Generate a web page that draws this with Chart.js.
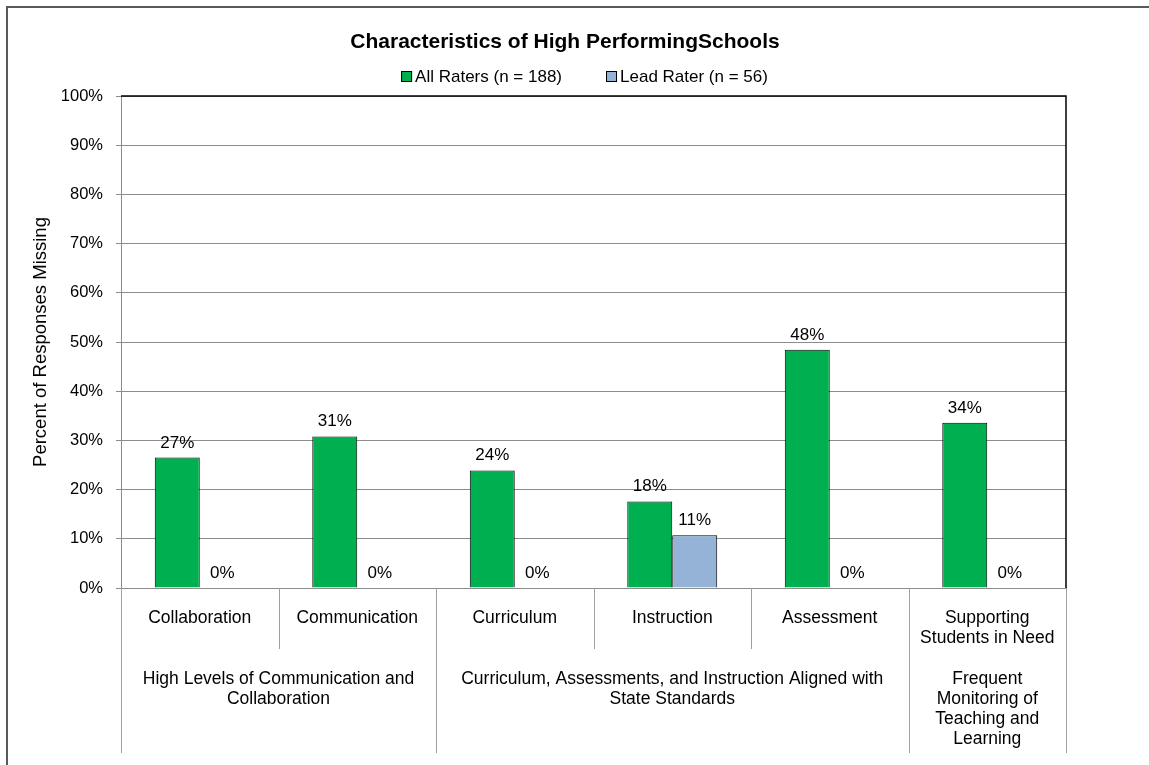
<!DOCTYPE html>
<html>
<head>
<meta charset="utf-8">
<title>Characteristics of High Performing Schools</title>
<script src="https://cdn.jsdelivr.net/npm/chart.js@4.4.1/dist/chart.umd.min.js"></script>
<style>
    html, body { margin: 0; padding: 0; background: #ffffff; }
    #wrap { width: 1149px; height: 765px; position: relative; }
</style>
</head>
<body>
<div id="wrap"><canvas id="chart"></canvas></div>
<script>
// chart data
const categories = [
    ['Collaboration'],
    ['Communication'],
    ['Curriculum'],
    ['Instruction'],
    ['Assessment'],
    ['Supporting', 'Students in Need']
];
const groupLabels = [
    ['High Levels of Communication and', 'Collaboration'],
    ['Curriculum, Assessments, and Instruction Aligned with', 'State Standards'],
    ['Frequent', 'Monitoring of', 'Teaching and', 'Learning']
];
const groupSpans = [2, 3, 1];
const allRaters = [26.5, 30.8, 23.9, 17.6, 48.4, 33.6];
const leadRater = [0, 0, 0, 10.7, 0, 0];
const yTicks = [0, 10, 20, 30, 40, 50, 60, 70, 80, 90, 100];
const seriesNames = ['All Raters (n = 188)', 'Lead Rater (n = 56)'];
const titleText = 'Characteristics of High PerformingSchools';

const FONT = '"Liberation Sans", Arial, sans-serif';
const GREEN = '#00b050';
const BLUE = '#95b3d7';
const GRID = '#8c8c8c';
const SEP = '#a0a0a0';

// draws title, legend, labels and the two-level category axis
const decorPlugin = {
    id: 'decor',
    afterDatasetsDraw(chart) {
        const ctx = chart.ctx;
        const area = chart.chartArea;
        const x = chart.scales.x;

        ctx.save();

        // plot border (top + right)
        ctx.strokeStyle = '#000000';
        ctx.lineWidth = 1.5;
        ctx.beginPath();
        ctx.moveTo(area.left, area.top);
        ctx.lineTo(area.right, area.top);
        ctx.lineTo(area.right, area.bottom);
        ctx.stroke();

        // value labels
        ctx.fillStyle = '#000000';
        ctx.font = '17px ' + FONT;
        ctx.textAlign = 'center';
        ctx.textBaseline = 'alphabetic';
        chart.data.datasets.forEach((ds, di) => {
            const meta = chart.getDatasetMeta(di);
            meta.data.forEach((bar, i) => {
                ctx.fillText(Math.round(ds.data[i]) + '%', bar.x, bar.y - 10);
            });
        });

        // boundaries between categories
        const n = categories.length;
        const bounds = [area.left];
        for (let i = 0; i < n - 1; i++) {
            bounds.push((x.getPixelForValue(i) + x.getPixelForValue(i + 1)) / 2);
        }
        bounds.push(area.right);

        const groupEdges = [0];
        groupSpans.forEach(s => groupEdges.push(groupEdges[groupEdges.length - 1] + s));

        ctx.strokeStyle = SEP;
        ctx.lineWidth = 1;
        bounds.forEach((bx, i) => {
            const long = groupEdges.includes(i);
            const px = Math.round(bx) + 0.5;
            ctx.beginPath();
            ctx.moveTo(px, area.bottom);
            ctx.lineTo(px, long ? area.bottom + 165 : area.bottom + 61);
            ctx.stroke();
        });

        // category labels
        ctx.font = '17.5px ' + FONT;
        categories.forEach((lines, i) => {
            const cx = (bounds[i] + bounds[i + 1]) / 2;
            lines.forEach((t, li) => ctx.fillText(t, cx, area.bottom + 35 + li * 20));
        });

        // group labels
        groupLabels.forEach((lines, g) => {
            const cx = (bounds[groupEdges[g]] + bounds[groupEdges[g + 1]]) / 2;
            lines.forEach((t, li) => ctx.fillText(t, cx, area.bottom + 96 + li * 20));
        });

        // title
        ctx.font = 'bold 21px ' + FONT;
        ctx.fillText(titleText, 565, 48);

        // legend
        ctx.font = '17px ' + FONT;
        ctx.textAlign = 'left';
        const box = 11, boxGap = 3, itemGap = 44;
        const colors = [GREEN, BLUE];
        const widths = seriesNames.map(s => box + boxGap + ctx.measureText(s).width);
        const total = widths.reduce((a, b) => a + b, 0) + itemGap;
        let lx = (area.left + area.right) / 2 - 9 - total / 2;
        seriesNames.forEach((s, i) => {
            ctx.fillStyle = colors[i];
            ctx.fillRect(lx, 71, box, box);
            ctx.strokeStyle = '#000000';
            ctx.lineWidth = 1;
            ctx.strokeRect(lx + 0.5, 71.5, box - 1, box - 1);
            ctx.fillStyle = '#000000';
            ctx.fillText(s, lx + box + boxGap, 82);
            lx += widths[i] + itemGap;
        });

        // outer chart frame (top + left)
        ctx.strokeStyle = '#595959';
        ctx.lineWidth = 2;
        ctx.beginPath();
        ctx.moveTo(7, chart.height);
        ctx.lineTo(7, 7);
        ctx.lineTo(chart.width, 7);
        ctx.stroke();

        ctx.restore();
    }
};

const ctx = document.getElementById('chart').getContext('2d');
const chart = new Chart(ctx, {
    type: 'bar',
    data: {
        labels: categories.map(c => c.join(' ')),
        datasets: [
            {
                label: seriesNames[0],
                data: allRaters,
                backgroundColor: GREEN,
                borderColor: '#000000',
                borderWidth: 1,
                categoryPercentage: 0.571,
                barPercentage: 1
            },
            {
                label: seriesNames[1],
                data: leadRater,
                backgroundColor: BLUE,
                borderColor: '#000000',
                borderWidth: 1,
                categoryPercentage: 0.571,
                barPercentage: 1
            }
        ]
    },
    options: {
        responsive: true,
        maintainAspectRatio: false,
        animation: false,
        layout: { padding: { top: 96, right: 83, left: 0, bottom: 0 } },
        plugins: {
            legend: { display: false },
            title: { display: false },
            tooltip: { enabled: false }
        },
        scales: {
            x: {
                type: 'category',
                offset: true,
                grid: { display: false },
                border: { display: true, color: GRID, width: 1 },
                ticks: { display: false },
                afterFit(scale) { scale.height = 177; }
            },
            y: {
                min: 0,
                max: 100,
                afterBuildTicks(scale) { scale.ticks = yTicks.map(v => ({ value: v })); },
                grid: { color: GRID, lineWidth: 1, tickLength: 5, drawTicks: true },
                border: { display: true, color: GRID, width: 1 },
                ticks: {
                    color: '#000000',
                    padding: 13,
                    font: { family: FONT, size: 16.5 },
                    callback: v => v + '%'
                },
                title: {
                    display: true,
                    text: 'Percent of Responses Missing',
                    color: '#000000',
                    font: { family: FONT, size: 18.5 },
                    padding: { top: 30, bottom: 0 }
                },
                afterFit(scale) { scale.width = 121; }
            }
        }
    },
    plugins: [decorPlugin]
});
</script>
</body>
</html>
